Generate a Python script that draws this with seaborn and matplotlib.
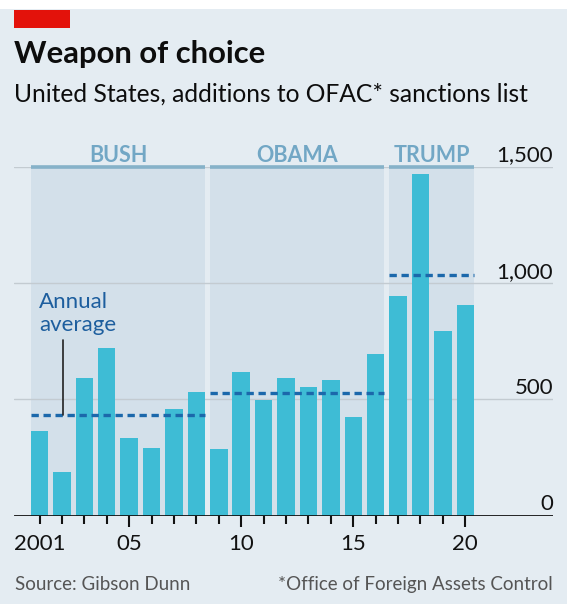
import matplotlib
matplotlib.use("Agg")
import matplotlib.pyplot as plt
import matplotlib.transforms as mtransforms
from matplotlib.patches import Rectangle
import seaborn as sns
import pandas as pd

# ---- data ----
years = [str(y) for y in range(2001, 2021)]
additions = [363, 188, 593, 718, 331, 288, 457, 529,
             285, 615, 496, 593, 553, 582, 424, 692,
             942, 1469, 792, 906]
terms = ["BUSH", "OBAMA", "TRUMP"]
term_first = ["2001", "2009", "2017"]
term_last = ["2008", "2016", "2020"]
term_avg = [431, 528, 1032]
ytick_vals = [0, 500, 1000, 1500]
ytick_labels = ["0", "500", "1,000", "1,500"]
xtick_years = ["2001", "2005", "2010", "2015", "2020"]
xtick_labels = ["2001", "05", "10", "15", "20"]

# ---- style ----
BG = "#e4ecf2"
SHADE = "#d3e0ea"
BAR = "#3ebcd5"
AVG = "#1b68ab"
TERM = "#72a7c5"
TERMLINE = "#86b2c9"
GRID = "#c3cbd1"

sns.set_theme(style="white")
plt.rcParams["font.family"] = ["Lato", "DejaVu Sans"]

W, H = 567, 604
fig = plt.figure(figsize=(W / 100, H / 100), dpi=100, facecolor=BG)

def fx(px):
    return px / W

def fy(py):
    return 1 - py / H

# white strip at very top
fig.patches.append(Rectangle((0, fy(9)), 1, 9 / H, transform=fig.transFigure,
                             facecolor="white", edgecolor="none", zorder=0))
# red tag
fig.patches.append(Rectangle((fx(14), fy(28)), fx(70) - fx(14), 18 / H,
                             transform=fig.transFigure, facecolor="#e3120b",
                             edgecolor="none", zorder=1))

fig.text(fx(14), fy(63), "Weapon of choice", fontsize=22.3, fontweight="bold",
         color="#0d0d0d", va="baseline", ha="left")
fig.text(fx(14), fy(102), "United States, additions to OFAC* sanctions list",
         fontsize=17.7, color="#0d0d0d", va="baseline", ha="left")
fig.text(fx(15), fy(590), "Source: Gibson Dunn", fontsize=13.5, color="#555555",
         va="baseline", ha="left")
fig.text(fx(553), fy(590), "*Office of Foreign Assets Control", fontsize=13.5,
         color="#555555", va="baseline", ha="right")

# axes: x from 14px to 553px, y 0 at 515.5px, 1500 at 166.5px
ax = fig.add_axes([fx(14), fy(515.5), fx(553) - fx(14), (515.5 - 166.5) / H])
ax.set_facecolor("none")

df = pd.DataFrame({"year": years, "additions": additions})
sns.barplot(data=df, x="year", y="additions", color=BAR, saturation=1,
            width=0.78, ax=ax, zorder=3, edgecolor="none")

ax.set_ylim(0, 1500)
ax.set_xlim(-1.138, 22.913)

pos = {y: i for i, y in enumerate(years)}
hw = 0.39
for name, a, b, avg in zip(terms, term_first, term_last, term_avg):
    x0, x1 = pos[a] - hw, pos[b] + hw
    ax.axvspan(x0, x1, ymin=0, ymax=1, facecolor=SHADE, edgecolor="none", zorder=0)
    ax.plot([x0, x1], [1500, 1500], color=TERMLINE, lw=2.6, zorder=2,
            solid_capstyle="butt", clip_on=False)
    ax.plot([x0, x1], [avg, avg], color=AVG, lw=2.4, zorder=4,
            linestyle=(0, (2.2, 1.4)), dash_capstyle="butt")
    ax.text((x0 + x1) / 2, 1500, name, transform=mtransforms.offset_copy(
        ax.transData, fig=fig, x=0, y=4.5, units="dots"),
        ha="center", va="baseline", fontsize=15.5, fontweight="bold", color=TERM)

# gridlines
for v in ytick_vals[1:]:
    ax.axhline(v, color=GRID, lw=1.0, zorder=1)
# y labels at right, above lines
for v, lab in zip(ytick_vals, ytick_labels):
    ax.text(1.0, v, lab, transform=mtransforms.offset_copy(
        ax.get_yaxis_transform(), fig=fig, x=0, y=5, units="dots"),
        ha="right", va="baseline", fontsize=16, color="#121212")

# zero line
ax.axhline(0, color="#121212", lw=2.0, zorder=5)

# annotation
ax.text(-0.02, 960, "Annual\naverage", fontsize=16, color="#1d5e9e",
        ha="left", va="top", linespacing=1.2, zorder=6)
ax.plot([1.05, 1.05], [754, term_avg[0]], color="#222222", lw=1.2, zorder=6)

# ticks
for s in ax.spines.values():
    s.set_visible(False)
ax.set_yticks([])
ax.set_xlabel("")
ax.set_ylabel("")
major = [pos[y] for y in xtick_years[1:]]
minor = [i for i in range(len(years)) if i not in major]
ax.set_xticks(major, labels=xtick_labels[1:])
minor_labels = ["2001" if i == pos["2001"] else "" for i in minor]
ax.set_xticks(minor, labels=minor_labels, minor=True)
ax.tick_params(axis="x", which="major", length=8, width=1.5, color="#121212",
               direction="out", pad=5, labelsize=16, labelcolor="#121212", bottom=True)
ax.tick_params(axis="x", which="minor", length=5.5, width=1.5, color="#121212",
               direction="out", pad=7.5, labelsize=16, labelcolor="#121212", bottom=True)

fig.savefig("out.png", dpi=100, facecolor=BG)
